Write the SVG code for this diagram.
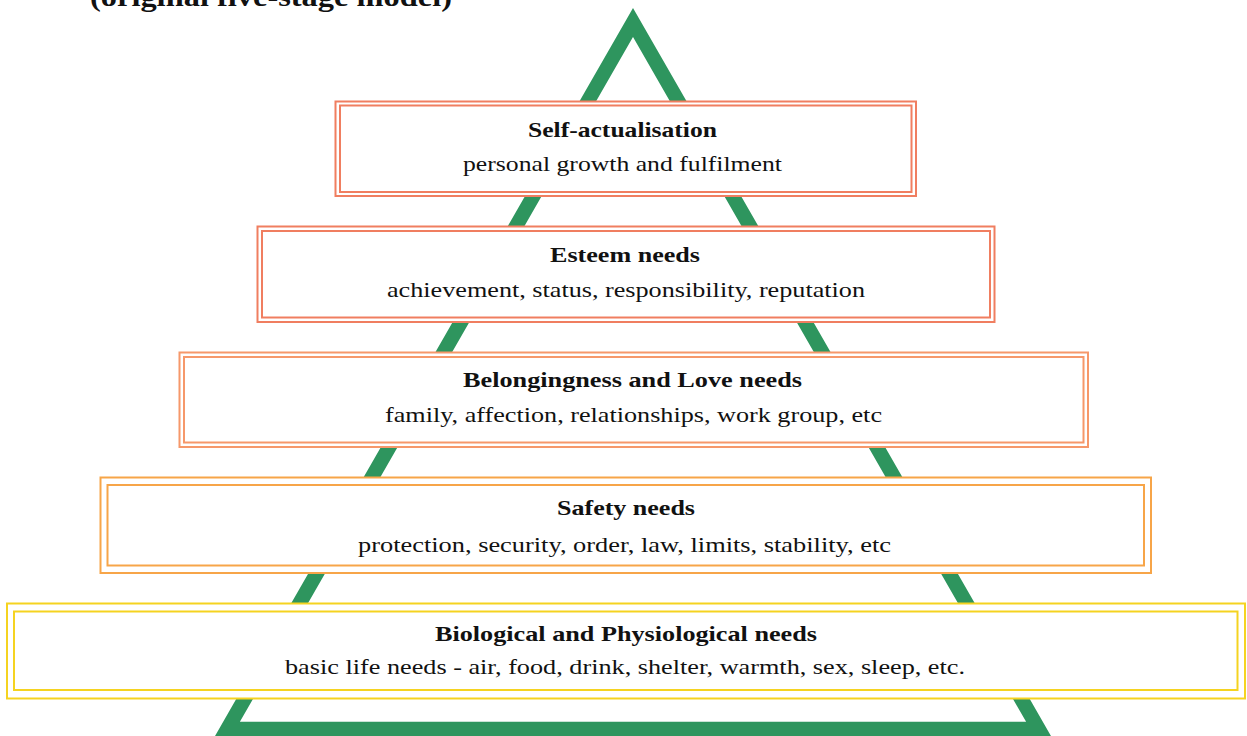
<svg xmlns="http://www.w3.org/2000/svg" width="1247" height="736" viewBox="0 0 1247 736">
<style>
.bg{fill:#ffffff}
.tri{fill:none;stroke:#2e955e;stroke-width:14.5;stroke-linejoin:miter}
.o{fill:#ffffff;stroke-width:2}
.i{fill:#ffffff;stroke-width:2}
.c1{stroke:#f07e60}
.c2{stroke:#f07e60}
.c3{stroke:#f6986a}
.c4{stroke:#f7a548}
.c5{stroke:#f5d320}
text{font-family:"Liberation Serif","Times New Roman",serif;fill:#111;text-anchor:middle;font-size:22px}
.t{font-weight:bold}
.hdr{font-weight:bold;font-size:28px;text-anchor:start}
</style>
<rect class="bg" x="0" y="0" width="1247" height="736"/>
<text class="hdr" x="90" y="6" textLength="362" lengthAdjust="spacingAndGlyphs">(original five-stage model)</text>
<g id="pyramid">
<polygon class="tri" points="633,22.5 227.4,729 1038.6,729"/>
</g>
<g id="connectors"></g>
<g id="self-actualisation">
<rect class="o c1" x="335.5" y="101.5" width="580.5" height="94.5"/>
<rect class="i c1" x="340" y="105.5" width="571.5" height="86.5"/>
<text class="t" x="622.5" y="137" textLength="189" lengthAdjust="spacingAndGlyphs">Self-actualisation</text>
<text x="622.5" y="171" textLength="319" lengthAdjust="spacingAndGlyphs">personal growth and fulfilment</text>
</g>
<g id="esteem">
<rect class="o c2" x="257.5" y="226.5" width="737" height="95.5"/>
<rect class="i c2" x="262" y="231" width="728" height="86.5"/>
<text class="t" x="625" y="262" textLength="150" lengthAdjust="spacingAndGlyphs">Esteem needs</text>
<text x="626" y="297" textLength="478" lengthAdjust="spacingAndGlyphs">achievement, status, responsibility, reputation</text>
</g>
<g id="belongingness">
<rect class="o c3" x="179.5" y="352.5" width="908.5" height="94.5"/>
<rect class="i c3" x="184" y="357" width="899.5" height="85.5"/>
<text class="t" x="632.5" y="387" textLength="339" lengthAdjust="spacingAndGlyphs">Belongingness and Love needs</text>
<text x="633.5" y="422" textLength="497" lengthAdjust="spacingAndGlyphs">family, affection, relationships, work group, etc</text>
</g>
<g id="safety">
<rect class="o c4" x="100.5" y="477.5" width="1050.5" height="95.5"/>
<rect class="i c4" x="107.5" y="485" width="1036.5" height="80.5"/>
<text class="t" x="626" y="515" textLength="138" lengthAdjust="spacingAndGlyphs">Safety needs</text>
<text x="624.5" y="552" textLength="533" lengthAdjust="spacingAndGlyphs">protection, security, order, law, limits, stability, etc</text>
</g>
<g id="biological">
<rect class="o c5" x="7" y="603.5" width="1238" height="95"/>
<rect class="i c5" x="14" y="611.5" width="1223.5" height="78.5"/>
<text class="t" x="626" y="641" textLength="382" lengthAdjust="spacingAndGlyphs">Biological and Physiological needs</text>
<text x="625" y="674" textLength="680" lengthAdjust="spacingAndGlyphs">basic life needs - air, food, drink, shelter, warmth, sex, sleep, etc.</text>
</g>
</svg>
